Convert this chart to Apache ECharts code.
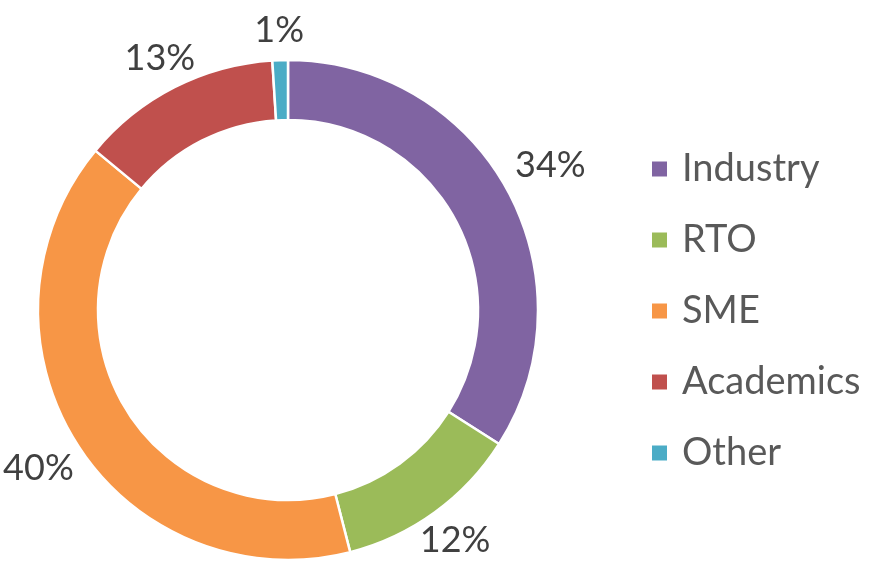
<!DOCTYPE html>
<html>
<head>
<meta charset="utf-8">
<script src="https://cdn.jsdelivr.net/npm/echarts@6/dist/echarts.min.js"></script>
<style>
  html, body { margin: 0; padding: 0; background: #fff; }
  #main { width: 871px; height: 584px; }
</style>
</head>
<body>
<div id="main"></div>
<script>
var categories = ['Industry', 'RTO', 'SME', 'Academics', 'Other'];
var shares = [34, 12, 40, 13, 1];
var colors = ['#8064A2', '#9BBB59', '#F79646', '#C0504D', '#4BACC6'];

var cx = 288, cy = 310, rOut = 250, rIn = 190;
var total = shares.reduce(function (a, b) { return a + b; }, 0);

// mid angle of each slice, clockwise from 12 o'clock
function midAngle(i) {
    var before = 0;
    for (var k = 0; k < i; k++) before += shares[k];
    return (before + shares[i] / 2) / total * Math.PI * 2;
}

var myChart = echarts.init(document.getElementById('main'));
myChart.setOption({
    animation: false,
    color: colors,
    legend: {
        orient: 'vertical',
        left: 645,
        top: 145,
        icon: 'rect',
        itemWidth: 17,
        itemHeight: 17,
        itemGap: 33,
        selectedMode: false,
        textStyle: {
            fontFamily: 'Lato',
            fontSize: 38,
            lineHeight: 38,
            color: '#595959',
            padding: [0, 0, 0, 9]
        },
        data: categories
    },
    series: [{
        type: 'pie',
        center: [cx, cy],
        radius: [rIn, rOut],
        startAngle: 90,
        clockwise: true,
        avoidLabelOverlap: false,
        itemStyle: {
            borderColor: '#fff',
            borderWidth: 2.5
        },
        label: {
            show: true,
            position: 'outside',
            formatter: '{c}%',
            fontFamily: 'Lato',
            fontSize: 36,
            lineHeight: 36,
            color: '#404040'
        },
        labelLine: { show: false, length: 0, length2: 0 },
        // push each label just clear of the ring along its slice's mid angle
        labelLayout: function (params) {
            var a = midAngle(params.dataIndex);
            var dx = Math.sin(a), dy = -Math.cos(a);
            var w = params.labelRect.width / 2, h = params.labelRect.height / 2;
            var d = Math.min(Math.abs(dx) > 1e-6 ? w / Math.abs(dx) : 1e9,
                             Math.abs(dy) > 1e-6 ? h / Math.abs(dy) : 1e9);
            var r = rOut + 12 + d;
            return {
                x: cx + r * dx,
                y: cy + r * dy,
                align: 'center',
                verticalAlign: 'middle'
            };
        },
        data: categories.map(function (name, i) {
            return { name: name, value: shares[i] };
        })
    }]
});
</script>
</body>
</html>
